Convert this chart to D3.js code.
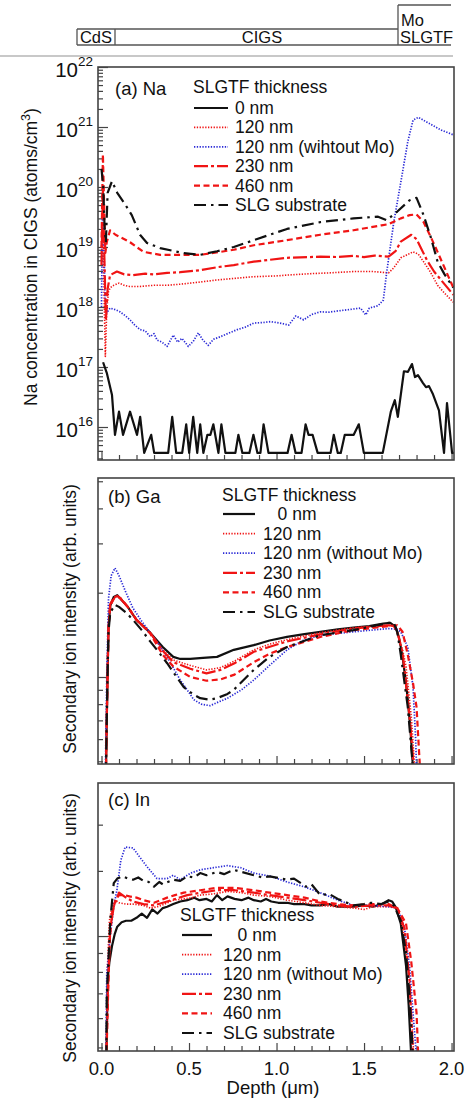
<!DOCTYPE html>
<html><head><meta charset="utf-8">
<script src="https://cdn.jsdelivr.net/npm/d3@7"></script>
<style>body{margin:0;background:#fff} svg{display:block} text{font-family:"Liberation Sans",Arial,Helvetica,sans-serif;fill:#111}</style>
</head><body><svg id="c" width="468" height="1099"></svg>
<script>
// ---------------- DATA ----------------
const xTickLabels = ["0.0","0.5","1.0","1.5","2.0"];
const xTickValues = [0,0.5,1.0,1.5,2.0];
const naDecades = [16,17,18,19,20,21,22];
const gaTicks = [0.5,0.6,0.7,0.8,0.9,1,2,3,4,5];
const inTicks = [0.5,0.6,0.7,0.8,0.9,1,1.5,2];
const layerLabels = ["CdS","CIGS","Mo","SLGTF"];
const legendA = ["0 nm","120 nm","120 nm (wihtout Mo)","230 nm","460 nm","SLG substrate"];
const legendB = ["\u00a0\u00a0\u00a00 nm","120 nm","120 nm (without Mo)","230 nm","460 nm","SLG substrate"];

// (a) Na concentration [depth um, atoms/cm3]
const na0 = [[0.009,1.2e17],[0.03,8e16],[0.06,3.4e16],[0.077,7.4e15],[0.1,1.8e16],[0.123,7.4e15],[0.163,1.8e16],[0.203,7.4e15],[0.221,1.48e16],[0.244,3.7e15],[0.284,7.4e15],[0.301,3.7e15],[0.381,3.7e15],[0.404,1.48e16],[0.427,3.7e15],[0.461,3.7e15],[0.484,1.11e16],[0.501,3.7e15],[0.524,1.48e16],[0.547,3.7e15],[0.564,1.11e16],[0.582,3.7e15],[0.605,7.4e15],[0.622,7.4e15],[0.639,1.11e16],[0.668,3.7e15],[0.685,1.11e16],[0.708,3.7e15],[0.765,3.7e15],[0.782,7.4e15],[0.805,3.7e15],[0.845,3.7e15],[0.868,7.4e15],[0.891,3.7e15],[0.908,3.7e15],[0.926,1.11e16],[0.954,3.7e15],[1.063,3.7e15],[1.086,7.4e15],[1.109,3.7e15],[1.143,3.7e15],[1.166,1.11e16],[1.183,7.4e15],[1.206,7.4e15],[1.235,3.7e15],[1.309,3.7e15],[1.327,7.4e15],[1.35,3.7e15],[1.367,3.7e15],[1.39,7.4e15],[1.441,7.4e15],[1.47,1.11e16],[1.499,3.7e15],[1.607,3.7e15],[1.653,1.8e16],[1.676,2.8e16],[1.693,1.48e16],[1.728,8.5e16],[1.751,8.3e16],[1.774,1.12e17],[1.791,6.8e16],[1.808,7.3e16],[1.837,5.4e16],[1.854,4.6e16],[1.871,4.8e16],[1.894,3.5e16],[1.928,1.9e16],[1.957,3.7e15],[1.974,2.5e16],[2.003,3.7e15],[2.015,3.7e15]];
const na120 = [[0.0,8e18],[0.008,2e19],[0.015,1.5e18],[0.022,1.5e17],[0.03,9e17],[0.04,1.8e18],[0.05,2.1e18],[0.07,2.3e18],[0.1,2.5e18],[0.13,2.3e18],[0.16,2.2e18],[0.22,2.2e18],[0.3,2.3e18],[0.375,2.3e18],[0.45,2.4e18],[0.56,2.6e18],[0.65,2.8e18],[0.76,3.0e18],[0.87,3.2e18],[1.0,3.3e18],[1.06,3.4e18],[1.2,3.6e18],[1.3,3.7e18],[1.44,3.9e18],[1.55,3.9e18],[1.64,3.7e18],[1.67,4.5e18],[1.71,6.6e18],[1.78,8.3e18],[1.81,7.6e18],[1.84,5.7e18],[1.88,3.8e18],[1.92,2.3e18],[1.96,1.7e18],[2.01,1.2e18]];
const na120b = [[0.0,1e18],[0.005,3e19],[0.012,2e19],[0.02,1.5e18],[0.03,8e17],[0.049,9.6e17],[0.08,9e17],[0.106,8.3e17],[0.135,7.2e17],[0.163,6.1e17],[0.19,5e17],[0.22,4.2e17],[0.25,4e17],[0.278,3.2e17],[0.3,3.6e17],[0.318,2.8e17],[0.345,2.6e17],[0.375,2.2e17],[0.41,3.4e17],[0.435,2.6e17],[0.46,3e17],[0.496,2.2e17],[0.525,2.7e17],[0.553,3.7e17],[0.58,2.8e17],[0.61,2.3e17],[0.64,2.9e17],[0.68,3.2e17],[0.72,3.6e17],[0.776,4.2e17],[0.82,4.6e17],[0.87,5.4e17],[0.92,5.5e17],[0.966,5.7e17],[1.02,5.4e17],[1.07,5e17],[1.11,7.1e17],[1.155,6.1e17],[1.2,7.5e17],[1.25,8.3e17],[1.3,8.2e17],[1.35,8.6e17],[1.42,9.1e17],[1.48,9.6e17],[1.51,7.4e17],[1.53,9.6e17],[1.58,1.05e18],[1.61,1.3e18],[1.63,3.9e18],[1.67,2.6e19],[1.71,1.2e20],[1.75,5.7e20],[1.78,1.3e21],[1.81,1.45e21],[1.86,1.2e21],[1.94,8.9e20],[2.01,7.4e20]];
const na230 = [[0.0,5e18],[0.008,9e19],[0.015,1e19],[0.025,6e17],[0.035,2e18],[0.049,3.4e18],[0.088,3.9e18],[0.13,3.5e18],[0.18,3.4e18],[0.25,3.6e18],[0.3,3.5e18],[0.375,3.7e18],[0.45,3.8e18],[0.564,4.1e18],[0.66,4.6e18],[0.756,5e18],[0.87,5.7e18],[1.06,6.6e18],[1.25,6.9e18],[1.35,6.8e18],[1.44,7.1e18],[1.5,6.8e18],[1.56,7.2e18],[1.64,6.9e18],[1.68,8.5e18],[1.71,1.23e19],[1.77,1.6e19],[1.8,1.35e19],[1.825,9.6e18],[1.86,6e18],[1.9,3.9e18],[1.95,2.6e18],[2.01,1.6e18]];
const na460 = [[0.0,1e19],[0.008,3.5e20],[0.015,5e19],[0.022,8e18],[0.03,1.2e19],[0.049,1.9e19],[0.08,1.6e19],[0.12,1.4e19],[0.163,1.2e19],[0.2,1e19],[0.24,8.3e18],[0.335,7.4e18],[0.45,7.4e18],[0.564,7.4e18],[0.68,8.3e18],[0.756,9e18],[0.87,1.07e19],[1.06,1.3e19],[1.25,1.6e19],[1.44,1.9e19],[1.6,2.3e19],[1.64,2.4e19],[1.71,3.0e19],[1.76,3.4e19],[1.8,3.5e19],[1.84,2.6e19],[1.88,1.5e19],[1.92,8.3e18],[1.96,4.5e18],[2.01,2.1e18]];
const naSLG = [[0.0,2e20],[0.01,1e20],[0.018,2e19],[0.025,1.2e19],[0.035,8e19],[0.06,1.25e20],[0.09,8e19],[0.134,5.2e19],[0.173,3.4e19],[0.22,1.6e19],[0.26,1.17e19],[0.335,9.6e18],[0.47,7.9e18],[0.564,7.4e18],[0.66,8.5e18],[0.756,1.0e19],[0.87,1.3e19],[1.06,2e19],[1.25,2.6e19],[1.44,3e19],[1.58,3.2e19],[1.63,2.8e19],[1.69,3.9e19],[1.76,6e19],[1.8,6.6e19],[1.84,3.4e19],[1.88,1.5e19],[1.92,5.7e18],[1.96,3.5e18],[2.01,2.1e18]];

// (b) Ga intensity (arb.)
const ga0 = [[0.025,0.45],[0.033,0.9],[0.04,1.5],[0.05,1.8],[0.07,1.93],[0.09,1.96],[0.11,1.9],[0.15,1.78],[0.2,1.6],[0.278,1.44],[0.35,1.28],[0.41,1.18],[0.45,1.16],[0.507,1.16],[0.58,1.17],[0.66,1.18],[0.756,1.25],[0.87,1.30],[0.96,1.35],[1.06,1.39],[1.15,1.42],[1.25,1.45],[1.35,1.48],[1.44,1.50],[1.53,1.52],[1.61,1.55],[1.65,1.56],[1.68,1.51],[1.70,1.38],[1.72,1.18],[1.74,0.95],[1.75,0.83],[1.765,0.65],[1.78,0.47]];
const ga120 = [[0.025,0.45],[0.033,0.9],[0.04,1.5],[0.05,1.8],[0.07,1.9],[0.09,1.94],[0.11,1.9],[0.15,1.78],[0.2,1.6],[0.278,1.44],[0.35,1.25],[0.41,1.15],[0.507,1.10],[0.6,1.06],[0.68,1.08],[0.76,1.14],[0.87,1.25],[0.96,1.31],[1.06,1.36],[1.25,1.44],[1.44,1.50],[1.64,1.53],[1.67,1.52],[1.69,1.45],[1.72,1.25],[1.74,1.09],[1.77,0.72],[1.79,0.47]];
const ga120b = [[0.022,0.45],[0.03,1.0],[0.04,1.9],[0.055,2.3],[0.077,2.45],[0.1,2.3],[0.14,2.0],[0.18,1.76],[0.23,1.58],[0.278,1.44],[0.33,1.3],[0.375,1.18],[0.45,0.975],[0.5,0.88],[0.527,0.83],[0.57,0.8],[0.62,0.79],[0.68,0.82],[0.72,0.84],[0.8,0.9],[0.87,0.975],[0.96,1.1],[1.06,1.25],[1.15,1.35],[1.25,1.41],[1.44,1.45],[1.64,1.49],[1.69,1.48],[1.71,1.45],[1.75,1.28],[1.78,0.92],[1.795,0.6],[1.80,0.47]];
const ga230 = [[0.025,0.45],[0.033,0.9],[0.04,1.5],[0.05,1.82],[0.07,1.92],[0.09,1.95],[0.11,1.9],[0.15,1.78],[0.2,1.6],[0.278,1.44],[0.35,1.24],[0.41,1.13],[0.507,1.07],[0.6,1.03],[0.68,1.06],[0.76,1.12],[0.87,1.23],[1.06,1.34],[1.25,1.42],[1.44,1.49],[1.64,1.53],[1.67,1.52],[1.69,1.45],[1.72,1.22],[1.76,0.72],[1.785,0.47]];
const ga460 = [[0.025,0.45],[0.033,0.9],[0.04,1.5],[0.05,1.8],[0.07,1.9],[0.09,1.95],[0.11,1.91],[0.15,1.78],[0.2,1.6],[0.278,1.43],[0.35,1.2],[0.41,1.09],[0.507,1.0],[0.6,0.97],[0.68,0.98],[0.76,1.02],[0.87,1.13],[0.96,1.21],[1.06,1.28],[1.25,1.39],[1.44,1.47],[1.64,1.52],[1.69,1.53],[1.72,1.45],[1.75,1.2],[1.78,0.95],[1.8,0.78],[1.82,0.47]];
const gaSLG = [[0.025,0.45],[0.033,0.9],[0.04,1.45],[0.05,1.7],[0.077,1.81],[0.1,1.78],[0.14,1.7],[0.18,1.6],[0.23,1.47],[0.278,1.34],[0.33,1.22],[0.375,1.12],[0.42,1.02],[0.47,0.92],[0.52,0.87],[0.564,0.84],[0.62,0.83],[0.66,0.84],[0.72,0.87],[0.756,0.9],[0.87,1.06],[0.96,1.18],[1.06,1.28],[1.25,1.41],[1.44,1.47],[1.64,1.56],[1.67,1.56],[1.69,1.45],[1.71,1.2],[1.75,0.78],[1.78,0.47]];

// (c) In intensity (arb.)
const in0 = [[0.028,0.47],[0.035,0.76],[0.045,0.85],[0.06,0.94],[0.075,1.01],[0.09,1.06],[0.115,1.09],[0.14,1.1],[0.17,1.1],[0.2,1.12],[0.23,1.15],[0.26,1.12],[0.29,1.18],[0.32,1.15],[0.35,1.19],[0.375,1.2],[0.41,1.22],[0.45,1.24],[0.49,1.25],[0.53,1.27],[0.56,1.25],[0.6,1.26],[0.63,1.24],[0.66,1.29],[0.69,1.25],[0.72,1.28],[0.76,1.26],[0.8,1.25],[0.84,1.27],[0.87,1.25],[0.91,1.24],[0.94,1.26],[0.97,1.24],[1.01,1.23],[1.06,1.23],[1.1,1.22],[1.16,1.22],[1.2,1.21],[1.25,1.21],[1.3,1.22],[1.35,1.2],[1.44,1.2],[1.5,1.21],[1.55,1.2],[1.6,1.22],[1.64,1.25],[1.66,1.24],[1.68,1.2],[1.71,1.08],[1.74,0.83],[1.755,0.65],[1.77,0.47]];
const in120 = [[0.028,0.47],[0.033,0.8],[0.045,1.1],[0.06,1.2],[0.08,1.25],[0.1,1.23],[0.14,1.22],[0.18,1.22],[0.24,1.21],[0.28,1.19],[0.32,1.2],[0.36,1.22],[0.41,1.25],[0.47,1.26],[0.52,1.27],[0.56,1.29],[0.64,1.3],[0.72,1.32],[0.8,1.31],[0.87,1.29],[0.96,1.28],[1.06,1.25],[1.16,1.23],[1.25,1.21],[1.35,1.2],[1.44,1.19],[1.5,1.18],[1.55,1.2],[1.64,1.2],[1.69,1.19],[1.71,1.1],[1.73,1.0],[1.76,0.76],[1.785,0.47]];
const in120b = [[0.025,0.47],[0.03,0.79],[0.05,1.0],[0.07,1.2],[0.088,1.33],[0.11,1.6],[0.135,1.74],[0.18,1.73],[0.22,1.63],[0.26,1.54],[0.317,1.43],[0.375,1.43],[0.41,1.46],[0.45,1.42],[0.51,1.48],[0.564,1.51],[0.64,1.53],[0.72,1.55],[0.795,1.53],[0.87,1.48],[0.966,1.45],[1.06,1.4],[1.155,1.36],[1.25,1.31],[1.35,1.25],[1.44,1.21],[1.54,1.21],[1.64,1.2],[1.69,1.19],[1.73,1.06],[1.76,0.83],[1.78,0.62],[1.8,0.47]];
const in230 = [[0.028,0.47],[0.035,0.68],[0.05,1.05],[0.07,1.2],[0.1,1.31],[0.14,1.27],[0.18,1.24],[0.24,1.22],[0.3,1.21],[0.375,1.24],[0.49,1.29],[0.57,1.31],[0.66,1.33],[0.76,1.33],[0.87,1.31],[0.96,1.29],[1.06,1.27],[1.16,1.25],[1.25,1.23],[1.35,1.21],[1.44,1.2],[1.55,1.21],[1.64,1.21],[1.69,1.19],[1.73,1.05],[1.76,0.76],[1.78,0.47]];
const in460 = [[0.028,0.47],[0.035,0.62],[0.045,0.95],[0.06,1.15],[0.08,1.25],[0.1,1.29],[0.13,1.29],[0.16,1.28],[0.2,1.27],[0.24,1.25],[0.3,1.23],[0.375,1.27],[0.42,1.29],[0.47,1.31],[0.564,1.33],[0.66,1.35],[0.76,1.35],[0.87,1.33],[0.96,1.31],[1.06,1.29],[1.16,1.27],[1.25,1.24],[1.35,1.22],[1.44,1.21],[1.55,1.22],[1.64,1.22],[1.69,1.19],[1.74,1.08],[1.77,0.85],[1.8,0.62],[1.81,0.47]];
const inSLG = [[0.028,0.47],[0.03,0.68],[0.05,1.1],[0.07,1.39],[0.09,1.43],[0.12,1.45],[0.15,1.43],[0.18,1.42],[0.21,1.44],[0.24,1.41],[0.27,1.4],[0.3,1.36],[0.33,1.4],[0.35,1.38],[0.41,1.42],[0.45,1.41],[0.49,1.45],[0.53,1.44],[0.564,1.48],[0.6,1.46],[0.66,1.49],[0.7,1.47],[0.756,1.51],[0.8,1.49],[0.87,1.46],[0.92,1.44],[0.96,1.45],[1.06,1.42],[1.1,1.43],[1.17,1.36],[1.2,1.38],[1.25,1.29],[1.3,1.3],[1.35,1.26],[1.44,1.21],[1.5,1.22],[1.54,1.23],[1.6,1.22],[1.64,1.24],[1.67,1.21],[1.71,1.1],[1.74,0.9],[1.76,0.69],[1.78,0.47]];

// ---------------- STYLES / LAYOUT ----------------
const RED = "#f01414", BLUE = "#2a2ad6", BLK = "#111";
const styles = [
  {color:BLK, w:2.2, dash:null},
  {color:RED, w:1.6, dash:"1.3,1.5"},
  {color:BLUE, w:1.7, dash:"1.3,1.5"},
  {color:RED, w:2.2, dash:"14,3,3,3"},
  {color:RED, w:2.2, dash:"6,3.5"},
  {color:BLK, w:2.2, dash:"12,5,2.5,5"}
];
const svg = d3.select("#c");
const X0 = 98, X1 = 454;
const x = d3.scaleLinear().domain([-0.02, 2.014]).range([X0, X1]);

// top gray artifact line
svg.append("line").attr("x1",0).attr("x2",453).attr("y1",56).attr("y2",56).attr("stroke","#c8c8c8").attr("stroke-width",2);

// top layer bar
const bar = svg.append("g").attr("stroke","#555").attr("stroke-width",1.3).attr("fill","none");
bar.append("path").attr("d","M77,29 H398 M77,29 V45 M115,29 V45 M398,5 V45 M398,5 H451 M77,45 H451");
const lt = svg.append("g").style("font-size","16.5px");
lt.append("text").attr("x",96).attr("y",43).attr("text-anchor","middle").text(layerLabels[0]);
lt.append("text").attr("x",262).attr("y",43).attr("text-anchor","middle").text(layerLabels[1]);
lt.append("text").attr("x",401).attr("y",26).text(layerLabels[2]);
lt.append("text").attr("x",400).attr("y",43).text(layerLabels[3]);

function panel(opt){
  const g = svg.append("g");
  const id = "clip"+opt.name;
  svg.append("clipPath").attr("id",id).append("rect").attr("x",X0).attr("y",opt.top).attr("width",X1-X0).attr("height",opt.bottom-opt.top);
  const xMinor = d3.range(0,2.001,0.1).map(v=>+v.toFixed(1));
  g.append("g").attr("transform",`translate(0,${opt.bottom})`)
    .call(d3.axisBottom(x).tickValues(xMinor.filter(v=>Math.abs(v*2-Math.round(v*2))>1e-6)).tickSize(-5).tickFormat(""))
    .call(a=>{a.select(".domain").remove(); a.selectAll("line").attr("stroke","#444").attr("stroke-width",1.2);});
  g.append("g").attr("transform",`translate(0,${opt.bottom})`)
    .call(d3.axisBottom(x).tickValues(xTickValues).tickSize(-8).tickFormat(""))
    .call(a=>{a.select(".domain").remove(); a.selectAll("line").attr("stroke","#444").attr("stroke-width",1.2);});
  g.append("g").attr("transform",`translate(${X0},0)`)
    .call(d3.axisLeft(opt.y).tickValues(opt.minor).tickSize(-5).tickFormat(""))
    .call(a=>{a.select(".domain").remove(); a.selectAll("line").attr("stroke","#444").attr("stroke-width",1.2);});
  g.append("g").attr("transform",`translate(${X0},0)`)
    .call(d3.axisLeft(opt.y).tickValues(opt.major).tickSize(-10).tickFormat(""))
    .call(a=>{a.select(".domain").remove(); a.selectAll("line").attr("stroke","#444").attr("stroke-width",1.2);});
  const line = d3.line().x(d=>x(d[0])).y(d=>opt.y(d[1]));
  const cg = g.append("g").attr("clip-path",`url(#${id})`);
  opt.series.forEach((s,i)=>{
    const st = styles[i];
    cg.append("path").attr("d",line(s)).attr("fill","none").attr("stroke",st.color)
      .attr("stroke-width",st.w).attr("stroke-dasharray",st.dash).attr("stroke-linejoin","round");
  });
  g.append("rect").attr("x",X0).attr("y",opt.top).attr("width",X1-X0).attr("height",opt.bottom-opt.top)
    .attr("fill","none").attr("stroke","#444").attr("stroke-width",1.6);
  g.append("text").attr("x",opt.lx).attr("y",opt.ly).style("font-size","18.5px").text(opt.label);
  const lg = g.append("g").style("font-size","17.5px");
  lg.append("text").attr("x",opt.leg.tx).attr("y",opt.leg.ty).text("SLGTF thickness");
  opt.leg.labels.forEach((t,i)=>{
    const yy = opt.leg.y0 + i*opt.leg.dy;
    const st = styles[i];
    lg.append("line").attr("x1",opt.leg.s0).attr("x2",opt.leg.s1).attr("y1",yy).attr("y2",yy)
      .attr("stroke",st.color).attr("stroke-width",st.w).attr("stroke-dasharray",st.dash);
    lg.append("text").attr("x",opt.leg.t0).attr("y",yy+6).text(t);
  });
  return g;
}

// Panel (a)
const yA = d3.scaleLog().domain([Math.pow(10,15.45), 1e22]).range([460,67]);
const naMinor = [];
naDecades.forEach(d=>{ if(d<22) for(let k=2;k<=9;k++) naMinor.push(k*Math.pow(10,d)); });
naMinor.push(3e15,4e15,5e15,6e15,7e15,8e15,9e15);
panel({name:"a", top:67, bottom:460, y:yA, major:naDecades.map(d=>Math.pow(10,d)), minor:naMinor,
  series:[na0,na120,na120b,na230,na460,naSLG], label:"(a) Na", lx:115, ly:95,
  leg:{tx:193, ty:93, y0:108, dy:19.4, s0:194, s1:228, t0:235, labels:legendA}});
const ta = svg.append("g");
naDecades.forEach(d=>{
  const yy = yA(Math.pow(10,d));
  ta.append("text").attr("x",78).attr("y",yy+10).attr("text-anchor","end").style("font-size","20.5px").text("10");
  ta.append("text").attr("x",78).attr("y",yy-1).style("font-size","13.5px").text(String(d));
});
svg.append("text").attr("transform","translate(37,257) rotate(-90)").attr("text-anchor","middle").style("font-size","17.5px")
  .html('Na concentration in CIGS (atoms/cm<tspan dy="-7" font-size="12.5px">3</tspan><tspan dy="7">)</tspan>');

// Panel (b)
const yB = d3.scaleLog().domain([0.489, 5.136]).range([764,478]);
panel({name:"b", top:478, bottom:764, y:yB, major:[1], minor:gaTicks.filter(v=>v!==1),
  series:[ga0,ga120,ga120b,ga230,ga460,gaSLG], label:"(b) Ga", lx:108, ly:503,
  leg:{tx:222, ty:501, y0:514, dy:19.6, s0:223, s1:255, t0:263, labels:legendB}});
svg.append("text").attr("transform","translate(76,619) rotate(-90)").attr("text-anchor","middle").style("font-size","17.5px")
  .text("Secondary ion intensity (arb. units)");

// Panel (c)
const yC = d3.scaleLog().domain([0.489, 2.592]).range([1051,783]);
panel({name:"c", top:783, bottom:1051, y:yC, major:[1], minor:inTicks.filter(v=>v!==1),
  series:[in0,in120,in120b,in230,in460,inSLG], label:"(c) In", lx:108, ly:806,
  leg:{tx:180, ty:921, y0:935, dy:19.6, s0:182, s1:212, t0:223, labels:legendB}});
svg.append("text").attr("transform","translate(76,928) rotate(-90)").attr("text-anchor","middle").style("font-size","17.5px")
  .text("Secondary ion intensity (arb. units)");

const xl = svg.append("g").style("font-size","18.5px").attr("text-anchor","middle");
xTickValues.forEach((v,i)=> xl.append("text").attr("x",x(v)).attr("y",1075).text(xTickLabels[i]));
svg.append("text").attr("x",273).attr("y",1094).attr("text-anchor","middle").style("font-size","18.5px").text("Depth (\u03bcm)");
</script></body></html>
